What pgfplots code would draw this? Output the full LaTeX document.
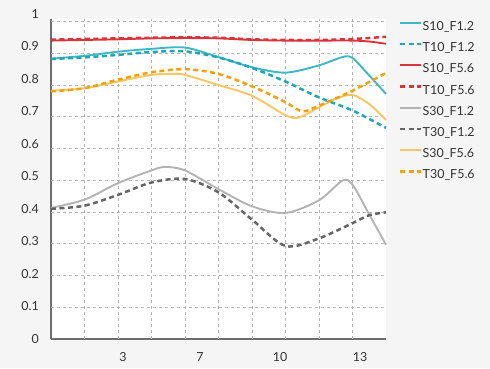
\documentclass[border=0pt]{standalone}
\usepackage{pgfplots}
\pgfplotsset{compat=1.18}
\usepackage{fontspec}
\setmainfont{Lato}
\definecolor{bg}{HTML}{F5F5F5}
\definecolor{axisgray}{HTML}{6E6E6E}
\definecolor{gridgray}{HTML}{B5B5B5}
\definecolor{labelgray}{HTML}{333333}
\definecolor{cteal}{HTML}{3CB9C4}
\definecolor{ctealdk}{HTML}{22A6B4}
\definecolor{cred}{HTML}{D9343A}
\definecolor{cgraylight}{HTML}{B3B3B3}
\definecolor{cgraydark}{HTML}{666666}
\definecolor{cyellow}{HTML}{F8C762}
\definecolor{corange}{HTML}{F2A20C}
\newcommand{\lblfont}{\fontsize{12.5}{15}\selectfont}
\begin{document}
\begin{tikzpicture}[x=1bp,y=1bp]
\fill[bg] (0,0) rectangle (490,368);
\begin{axis}[
  at={(51bp,29bp)}, anchor=south west, scale only axis,
  width=335bp, height=320bp,
  xmin=0, xmax=10, ymin=0, ymax=1.008,
  clip=false,
  axis background/.style={fill=white},
  axis x line=bottom, axis y line=left,
  axis line style={-, draw=axisgray, line width=1.5bp},
  xtick={2.149,4.448,6.836,9.224}, xticklabels={3,7,10,13},
  ytick={0,0.1025,0.205,0.3075,0.41,0.5125,0.615,0.7175,0.82,0.9225},
  yticklabels={0,0.1,0.2,0.3,0.4,0.5,0.6,0.7,0.8,0.9},
  major tick length=0pt,
  extra x ticks={1,2,3,4,5,6,7,8,9}, extra x tick labels={},
  extra x tick style={grid=major},
  extra y ticks={0.1,0.2,0.3,0.4,0.5,0.6,0.7,0.8,0.9,1.0}, extra y tick labels={},
  extra y tick style={grid=major},
  grid style={gridgray, dash pattern=on 3bp off 3bp, line width=0.8bp},
  tick label style={font=\lblfont, text=labelgray},
  xticklabel style={inner sep=0pt, yshift=-13.5bp},
  yticklabel style={inner sep=0pt, xshift=-12bp},
  legend style={draw=none, fill=none, at={(rel axis cs:1,1)}, anchor=north west,
    xshift=13bp, yshift=-2.3bp, font=\lblfont, text=labelgray, row sep=9.2bp,
    inner sep=0pt, nodes={inner sep=0pt, text height=9bp, text depth=3bp},
    /tikz/every even column/.append style={column sep=5bp}},
  legend cell align=left,
  legend image code/.code={\draw[#1] (0bp,4.5bp) -- (21bp,4.5bp);},
  every axis plot/.append style={line width=1.9bp, smooth, tension=0.5},
]
\addplot[cteal, solid] coordinates {(0,0.883) (1,0.892) (2,0.905) (3,0.914) (4,0.918) (5,0.888) (6,0.856) (7,0.839) (8,0.862) (8.7,0.888) (9,0.885) (9.5,0.830) (10,0.772)};
\addlegendentry{S10\_F1.2}
\addplot[ctealdk, line width=2.5bp, dash pattern=on 5bp off 3.5bp] coordinates {(0,0.882) (1,0.887) (2,0.895) (3,0.904) (4,0.906) (5,0.887) (6,0.854) (7,0.811) (8,0.761) (9,0.720) (10,0.665)};
\addlegendentry{T10\_F1.2}
\addplot[cred, solid] coordinates {(0,0.940) (1,0.942) (2,0.944) (3,0.947) (4,0.948) (5,0.947) (6,0.942) (7,0.940) (8,0.940) (9,0.940) (9.5,0.937) (10,0.930)};
\addlegendentry{S10\_F5.6}
\addplot[cred, line width=2.5bp, dash pattern=on 5bp off 3.5bp] coordinates {(0,0.943) (1,0.945) (2,0.947) (3,0.949) (4,0.950) (5,0.949) (6,0.944) (7,0.942) (8,0.942) (9,0.945) (10,0.952)};
\addlegendentry{T10\_F5.6}
\addplot[cgraylight, solid] coordinates {(0,0.413) (1,0.439) (2,0.491) (3,0.531) (3.4,0.542) (4,0.531) (5,0.472) (6,0.418) (7,0.397) (8,0.437) (8.7,0.499) (9,0.486) (9.5,0.392) (10,0.297)};
\addlegendentry{S30\_F1.2}
\addplot[cgraydark, line width=2.5bp, dash pattern=on 5bp off 3.5bp] coordinates {(0,0.410) (1,0.420) (2,0.454) (3,0.493) (4,0.504) (5,0.462) (6,0.376) (7,0.293) (8,0.317) (9,0.365) (9.5,0.390) (10,0.399)};
\addlegendentry{T30\_F1.2}
\addplot[cyellow, solid] coordinates {(0,0.782) (1,0.790) (2,0.811) (3,0.832) (3.7,0.835) (4,0.832) (5,0.800) (6,0.766) (7,0.705) (7.4,0.698) (8,0.730) (8.5,0.757) (9,0.769) (9.5,0.740) (10,0.690)};
\addlegendentry{S30\_F5.6}
\addplot[corange, line width=2.5bp, dash pattern=on 5bp off 3.5bp] coordinates {(0,0.780) (1,0.790) (2,0.817) (3,0.840) (4,0.850) (5,0.835) (6,0.796) (7,0.746) (7.5,0.717) (8,0.735) (9,0.782) (10,0.838)};
\addlegendentry{T30\_F5.6}
\node[anchor=east, inner sep=0pt, xshift=-12bp, font=\lblfont, text=labelgray] at (axis cs:0,1.025) {1};
\end{axis}
\end{tikzpicture}
\end{document}
